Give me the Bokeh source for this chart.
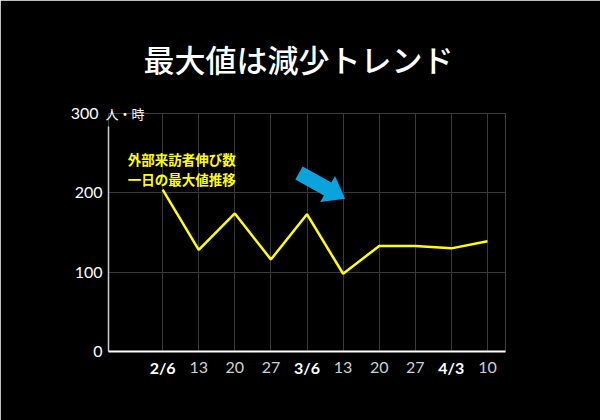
from bokeh.plotting import figure
from bokeh.models import FixedTicker, Label, LinearAxis
from bokeh.embed import file_html
from bokeh.resources import INLINE

# data
week_labels = ["2/6", "13", "20", "27", "3/6", "13", "20", "27", "4/3", "10"]
month_start = [True, False, False, False, True, False, False, False, True, False]
max_values = [204, 128, 174, 116, 173, 98, 133, 133, 130, 139]
y_ticks = [0, 100, 200]
y_top = 300

xs = list(range(len(week_labels)))

p = figure(width=600, height=420, x_range=(-1.5, 9.5), y_range=(0, y_top),
           output_backend="svg", toolbar_location=None,
           background_fill_color="black", border_fill_color="black",
           min_border_left=108, min_border_right=95, min_border_top=112, min_border_bottom=69)
p.outline_line_color = None

# title
p.title.text = "最大値は減少トレンド"
p.title.text_color = "white"
p.title.text_font = "Noto Sans CJK JP Medium"
p.title.text_font_size = "31px"
p.title.text_font_style = "normal"
p.title.align = "left"
p.title.offset = 35
p.title.standoff = 66

# x axes: normal-weight labels, then bold month-start labels pulled up onto the same row
p.xaxis.ticker = FixedTicker(ticks=xs)
p.xaxis.major_label_overrides = {i: ("" if m else t) for i, (t, m) in enumerate(zip(week_labels, month_start))}
p.xaxis.axis_line_color = "white"
p.xaxis.axis_line_width = 2
p.xaxis.major_tick_line_color = None
p.xaxis.minor_tick_line_color = None
p.xaxis.major_tick_out = 0
p.xaxis.major_tick_in = 0
p.xaxis.major_label_text_color = "#d0d0d0"
p.xaxis.major_label_text_font = "Lato"
p.xaxis.major_label_text_font_size = "16px"
p.xaxis.major_label_standoff = 10

xb = LinearAxis(ticker=FixedTicker(ticks=xs),
                major_label_overrides={i: (t if m else "") for i, (t, m) in enumerate(zip(week_labels, month_start))},
                axis_line_color=None, major_tick_line_color=None, minor_tick_line_color=None,
                major_tick_out=0, major_tick_in=0,
                major_label_text_color="white", major_label_text_font="Lato",
                major_label_text_font_size="16px", major_label_text_font_style="bold",
                major_label_standoff=-18)
p.add_layout(xb, "below")

# y axes
p.yaxis.ticker = FixedTicker(ticks=y_ticks)
p.yaxis.bounds = (0, 283)
p.yaxis.axis_line_color = "#cfcfcf"
p.yaxis.axis_line_width = 1.5
p.yaxis.major_tick_line_color = None
p.yaxis.minor_tick_line_color = None
p.yaxis.major_tick_out = 0
p.yaxis.major_tick_in = 0
p.yaxis.major_label_text_color = "white"
p.yaxis.major_label_text_font = "Lato"
p.yaxis.major_label_text_font_size = "16px"
p.yaxis.major_label_standoff = 6

ytop = LinearAxis(ticker=FixedTicker(ticks=[y_top]),
                  axis_line_color=None, major_tick_line_color=None, minor_tick_line_color=None,
                  major_tick_out=0, major_tick_in=0,
                  major_label_text_color="white", major_label_text_font="Lato",
                  major_label_text_font_size="16px", major_label_standoff=-27)
p.add_layout(ytop, "left")

yunit = LinearAxis(ticker=FixedTicker(ticks=[y_top]),
                   major_label_overrides={y_top: "人・時"},
                   axis_line_color=None, major_tick_line_color=None, minor_tick_line_color=None,
                   major_tick_out=0, major_tick_in=0,
                   major_label_text_color="white", major_label_text_font="Noto Sans CJK JP",
                   major_label_text_font_size="13px", major_label_text_align="left",
                   major_label_standoff=-77)
p.add_layout(yunit, "left")

# grid
p.xgrid.grid_line_color = "#383838"
p.ygrid.ticker = FixedTicker(ticks=[100, 200])
p.ygrid.grid_line_color = "#383838"
p.segment(x0=[-0.333], y0=[y_top], x1=[9.5], y1=[y_top], line_color="#383838", line_width=1)

# line
p.line(xs, max_values, line_color="#ffff00", line_width=2.5)

# annotation
p.add_layout(Label(x=-0.97, y=242.5, text="外部来訪者伸び数", text_color="#ffff00",
                   text_font="Noto Sans CJK JP", text_font_size="13.5px", text_font_style="bold",
                   text_baseline="middle", text_align="left"))
p.add_layout(Label(x=-0.97, y=217.5, text="一日の最大値推移", text_color="#ffff00",
                   text_font="Noto Sans CJK JP", text_font_size="13.5px", text_font_style="bold",
                   text_baseline="middle", text_align="left"))

# arrow (decoration)
ax_px = [295.3, 302.7, 331.3, 335.0, 345.0, 320.2, 323.9]
ay_px = [177.5, 164.5, 180.7, 174.1, 197.0, 200.3, 193.7]
p.patch([(v - 163) / 36 for v in ax_px], [(351 - v) / 0.8 for v in ay_px],
        fill_color="#0aa3dd", line_color=None)

open("out.html", "w").write(file_html(p, INLINE))
